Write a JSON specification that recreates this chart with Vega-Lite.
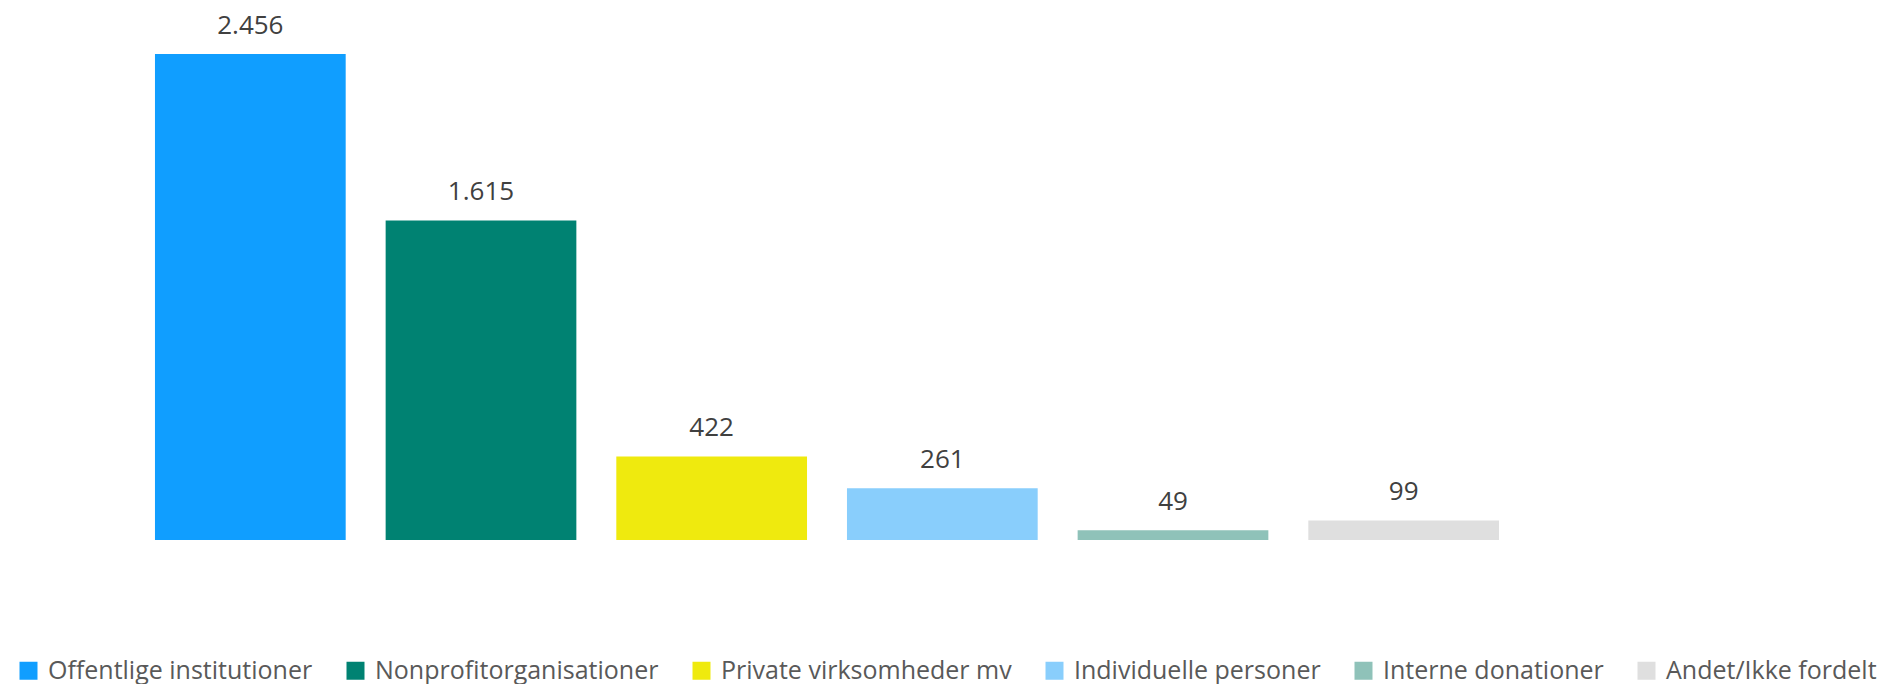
{
  "$schema": "https://vega.github.io/schema/vega-lite/v6.json",
  "autosize": "none",
  "width": 1384,
  "height": 486,
  "padding": {"left": 135, "top": 54, "right": 370, "bottom": 144},
  "background": "white",
  "config": {
    "view": {"stroke": null},
    "font": "Open Sans"
  },
  "data": {
    "values": [
      {"kategori": "Offentlige institutioner", "beloeb": 2456, "label": "2.456"},
      {"kategori": "Nonprofitorganisationer", "beloeb": 1615, "label": "1.615"},
      {"kategori": "Private virksomheder mv", "beloeb": 422, "label": "422"},
      {"kategori": "Individuelle personer", "beloeb": 261, "label": "261"},
      {"kategori": "Interne donationer", "beloeb": 49, "label": "49"},
      {"kategori": "Andet/Ikke fordelt", "beloeb": 99, "label": "99"}
    ]
  },
  "encoding": {
    "x": {
      "field": "kategori",
      "type": "nominal",
      "sort": null,
      "scale": {"paddingInner": 0.1732, "paddingOuter": 0.0866},
      "axis": null
    },
    "y": {
      "field": "beloeb",
      "type": "quantitative",
      "scale": {"domain": [0, 2456], "nice": false, "zero": true},
      "axis": null
    }
  },
  "layer": [
    {
      "mark": {"type": "bar"},
      "encoding": {
        "color": {
          "field": "kategori",
          "type": "nominal",
          "sort": null,
          "scale": {
            "domain": ["Offentlige institutioner", "Nonprofitorganisationer", "Private virksomheder mv", "Individuelle personer", "Interne donationer", "Andet/Ikke fordelt"],
            "range": ["#109EFF", "#008272", "#EFEA0E", "#89CEFC", "#8FC2B9", "#DFDFDF"]
          },
          "legend": {
            "title": null,
            "orient": "none",
            "direction": "horizontal",
            "legendX": -119,
            "legendY": 604,
            "symbolType": "square",
            "symbolSize": 324,
            "symbolStrokeWidth": 0,
            "symbolOpacity": 1,
            "labelFont": "Open Sans",
            "labelFontSize": 25,
            "labelColor": "#595959",
            "labelLimit": 500,
            "labelOffset": 7,
            "columnPadding": 30
          }
        }
      }
    },
    {
      "mark": {"type": "text", "baseline": "alphabetic", "dy": -20, "fontSize": 26, "font": "Open Sans", "color": "#404040"},
      "encoding": {
        "text": {"field": "label", "type": "nominal"}
      }
    }
  ]
}
